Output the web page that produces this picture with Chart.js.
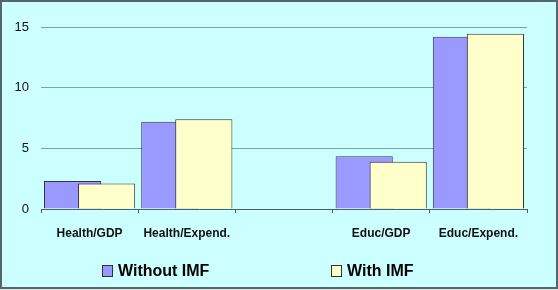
<!DOCTYPE html>
<html>
<head>
<meta charset="utf-8">
<script src="https://cdn.jsdelivr.net/npm/chart.js@4"></script>
<style>
    body { margin: 0; background: #d9e0e0; }
    #frame {
        position: absolute; left: 0; top: 0;
        width: 554px; height: 285px;
        border: 2px solid #56666a;
        background: #ccffff;
        font-family: "Liberation Sans", Arial, sans-serif;
    }
    #frame canvas { position: absolute; left: 0; top: 0; }
    .legend-item {
        position: absolute; top: 259px;
        font-size: 16px; font-weight: bold; color: #000;
        line-height: 20px; white-space: nowrap;
    }
    .legend-box {
        display: inline-block; width: 9px; height: 10px;
        border: 1px solid #333; margin-right: 5px; vertical-align: -1px;
    }
</style>
</head>
<body>
<div id="frame">
    <canvas id="chart" width="554" height="285"></canvas>
</div>
<script>
// Categories and values (gap category in the middle)
const categories = ['Health/GDP', 'Health/Expend.', '', 'Educ/GDP', 'Educ/Expend.'];
const withoutImf = [2.3, 7.2, null, 4.35, 14.2];
const withImf = [2.1, 7.4, null, 3.9, 14.45];
const yTicks = [0, 5, 10, 15];

Chart.defaults.font.family = '"Liberation Sans", Arial, sans-serif';
Chart.defaults.color = '#111';

// Chart.js paints dataset 0 last; the original has the second series on top,
// so hold it back and paint it after the first one
const overlapOrder = {
    id: 'overlapOrder',
    beforeDatasetDraw(chart, args) {
        if (args.index === 1 && !chart.$paintingTop) return false;
    },
    afterDatasetsDraw(chart) {
        chart.$paintingTop = true;
        chart.getDatasetMeta(1).controller.draw();
        chart.$paintingTop = false;
    }
};

const ctx = document.getElementById('chart');
const chart = new Chart(ctx, {
    type: 'bar',
    data: {
        labels: categories,
        datasets: [
            {
                label: 'Without IMF',
                data: withoutImf,
                backgroundColor: '#9999ff',
                borderColor: '#333344',
                borderWidth: 1
            },
            {
                label: 'With IMF',
                data: withImf,
                backgroundColor: '#ffffcc',
                borderColor: '#333333',
                borderWidth: 1
            }
        ]
    },
    plugins: [overlapOrder],
    options: {
        responsive: false,
        animation: false,
        // bars overlap like the original, so bar width is wider than its slot
        categoryPercentage: 0.70,
        barPercentage: 1.68,
        layout: { padding: { top: 25, right: 29, bottom: 0, left: 0 } },
        plugins: {
            legend: { display: false },
            tooltip: { enabled: false }
        },
        scales: {
            x: {
                grid: {
                    display: true,
                    drawOnChartArea: false,
                    offset: true,
                    tickLength: 4,
                    color: '#555f60'
                },
                border: { display: true, color: '#555f60', width: 1 },
                ticks: {
                    padding: 13,
                    maxRotation: 0,
                    autoSkip: false,
                    font: { size: 12, weight: 'bold' }
                },
                afterFit: (scale) => { scale.height = 78; }
            },
            y: {
                min: 0,
                max: 15,
                afterBuildTicks: (scale) => {
                    scale.ticks = yTicks.map(v => ({ value: v }));
                },
                grid: {
                    color: '#80a2a2',
                    drawTicks: false
                },
                border: { display: false },
                ticks: {
                    padding: 12,
                    font: { size: 13 }
                },
                afterFit: (scale) => { scale.width = 39; }
            }
        }
    }
});

// Legend laid out like the original (wide spacing, slightly left of centre)
const legendX = [100, 329];
chart.data.datasets.forEach((ds, i) => {
    const item = document.createElement('div');
    item.className = 'legend-item';
    item.style.left = legendX[i] + 'px';
    const box = document.createElement('span');
    box.className = 'legend-box';
    box.style.background = ds.backgroundColor;
    item.appendChild(box);
    item.appendChild(document.createTextNode(ds.label));
    document.getElementById('frame').appendChild(item);
});
</script>
</body>
</html>
